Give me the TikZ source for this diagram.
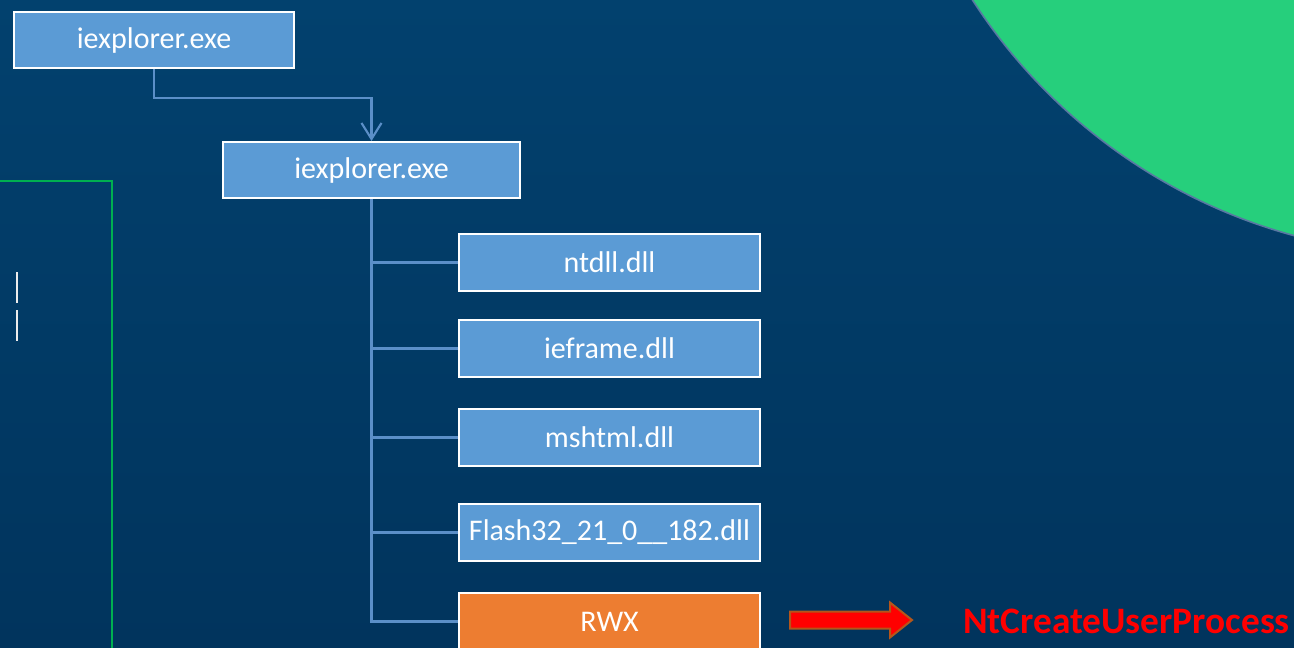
\documentclass[tikz,border=0pt]{standalone}
\usepackage{fontspec}
\setmainfont{Carlito}
\usetikzlibrary{arrows.meta,calc}
\definecolor{bgtop}{HTML}{02416E}
\definecolor{bgbot}{HTML}{01345D}
\definecolor{boxblue}{HTML}{5B9BD5}
\definecolor{boxorange}{HTML}{ED7D31}
\definecolor{connblue}{HTML}{5B8FC8}
\definecolor{circgreen}{HTML}{26CF7C}
\definecolor{circedge}{HTML}{5878A2}
\definecolor{framegreen}{HTML}{00B050}
\definecolor{arrowedge}{HTML}{B5561A}
\tikzset{
  procbox/.style={draw=white, line width=1.5pt, fill=boxblue, text=white,
    inner sep=0pt, minimum height=42pt, font=\fontsize{22.5}{24}\selectfont},
  dllbox/.style={procbox, minimum width=225.75pt, minimum height=42.75pt},
  conn/.style={draw=connblue, line width=1.9pt},
}
\begin{document}
\begin{tikzpicture}[x=0.75pt,y=-0.75pt]
\useasboundingbox (0,0) rectangle (1294,647);
\begin{scope}
\clip (0,0) rectangle (1294,647);
\shade[shading angle=225, top color=bgtop, bottom color=bgbot] (0,0) rectangle (1294,647);
\fill[circgreen] (1440,-301) circle[radius=556];
\draw[circedge, line width=1.2pt] (1440,-301) circle[radius=556];
\draw[framegreen, line width=1.5pt] (0,181) -- (112,181) -- (112,660);
\draw[white!85!gray, line width=1.5pt] (17,272) -- (17,303);
\draw[white!85!gray, line width=1.5pt] (17,310) -- (17,341);

\node[procbox, minimum width=210pt] (p1) at (154,40) {iexplorer.exe};
\node[procbox, minimum width=222.75pt] (p2) at (371.5,170) {iexplorer.exe};
\node[dllbox] (d1) at (609.5,262.5) {ntdll.dll};
\node[dllbox] (d2) at (609.5,348.5) {ieframe.dll};
\node[dllbox] (d3) at (609.5,437.5) {mshtml.dll};
\node[dllbox] (d4) at (609.5,532.5) {Flash32\_21\_0\_\_182.dll};
\node[dllbox, fill=boxorange] (d5) at (609.5,621.5) {RWX};

\draw[conn, -{Straight Barb[length=12pt,width=15pt,line width=1.6pt]}] (p1.south) -- ++(0,29) -| (p2.north);
\draw[conn] (p2.south) -- (p2.south |- d5.west) -- (d5.west);
\foreach \d in {d1,d2,d3,d4} {\draw[conn] (p2.south |- \d.west) -- (\d.west);}

\coordinate (ra) at (790,620);
\node[text=red, font=\bfseries\fontsize{28}{30}\selectfont, anchor=west, inner sep=0pt] (nt) at (963,621) {NtCreateUserProcess};
\fill[red, draw=arrowedge, line width=1.5pt] (ra) ++(0,-8.5) -- ++(100,0) -- ++(0,-9) -- ++(22,17.5) -- ++(-22,17.5) -- ++(0,-9) -- ++(-100,0) -- cycle;
\end{scope}
\end{tikzpicture}
\end{document}
